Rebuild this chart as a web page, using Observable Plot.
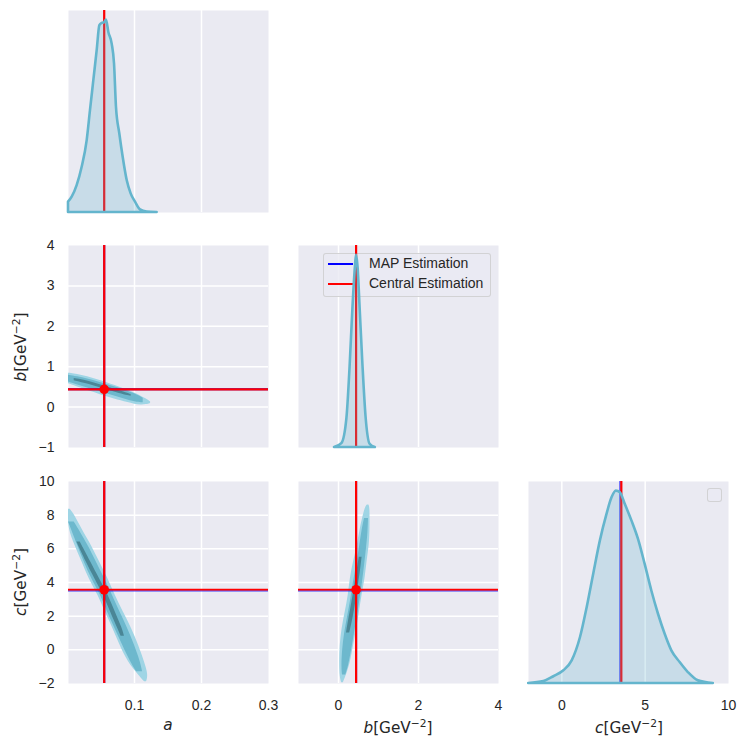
<!DOCTYPE html>
<html><head><meta charset="utf-8">
<script src="https://cdn.jsdelivr.net/npm/d3@7"></script>
<script src="https://cdn.jsdelivr.net/npm/@observablehq/plot@0.6"></script>
<style>
body{margin:0;background:#fff;}
#fig{position:relative;width:747px;height:748px;background:#fff;overflow:hidden;font-family:'Liberation Sans',Arial,sans-serif;}
.leg{position:absolute;box-sizing:border-box;border:1px solid rgba(204,204,204,0.8);border-radius:3px;background:rgba(234,234,242,0.8);}
.legtxt{position:absolute;font-size:14px;color:#262626;white-space:nowrap;line-height:14px;}
.legline{position:absolute;height:2px;}
</style></head><body><div id="fig"></div>
<script>
// ---------- data ----------
const aCentral = 0.0548, bCentral = 0.44, cCentral = 3.57;
const aMAP = 0.0548, bMAP = 0.44, cMAP = 3.49;

const aDomain = [0.0015, 0.3], bDomain = [-1, 4], cDomain = [-2, 10];
const aTicks = [0.1, 0.2, 0.3], bTicksX = [0, 2, 4], cTicksX = [0, 5, 10];
const bTicksY = [-1, 0, 1, 2, 3, 4], cTicksY = [-2, 0, 2, 4, 6, 8, 10];
const aGrid = [0.1, 0.2], bGridX = [0, 2], cGridX = [0, 5];
const bGridY = [0, 1, 2, 3], cGridY = [0, 2, 4, 6, 8];

// marginal KDEs (normalised density, peak = 1)
const kdeA_x = [0.0015,0.007,0.0144,0.0219,0.0294,0.0343,0.0393,0.0443,0.0483,0.0518,0.0552,0.0582,0.0617,0.0667,0.0702,0.0731,0.0781,0.0831,0.0891,0.095,0.1015,0.109,0.1189,0.1338];
const kdeA_y = [0.054,0.080,0.14,0.235,0.374,0.529,0.685,0.841,0.971,0.983,0.986,1.0,0.936,0.875,0.772,0.547,0.408,0.287,0.166,0.097,0.054,0.014,0.003,0];
const kdeB_x = [-0.1,0.084,0.21,0.29,0.36,0.42,0.45,0.49,0.54,0.61,0.69,0.79,0.92];
const kdeB_y = [0,0.02,0.15,0.42,0.72,0.93,1.0,0.934,0.727,0.433,0.156,0.017,0];
const kdeC_x = [-1.99,-1.08,-0.48,0.12,0.62,1.12,1.52,1.91,2.31,2.71,3.01,3.27,3.51,3.81,4.21,4.6,5.0,5.4,5.8,6.2,6.6,7.1,7.59,8.19,9.09];
const kdeC_y = [0,0.01,0.035,0.066,0.118,0.239,0.394,0.567,0.74,0.879,0.965,1.0,0.991,0.93,0.844,0.749,0.619,0.481,0.36,0.256,0.17,0.109,0.057,0.014,0];

// 2D histogram a-b : bands along a (outer / mid / core)
const abOuter_a  = [0.0015,0.010,0.020,0.030,0.040,0.050,0.060,0.070,0.080,0.090,0.100,0.110,0.118,0.124];
const abOuter_lo = [0.58,0.53,0.47,0.41,0.36,0.30,0.25,0.20,0.16,0.11,0.07,0.05,0.06,0.09];
const abOuter_hi = [0.84,0.82,0.79,0.75,0.70,0.65,0.60,0.54,0.48,0.42,0.35,0.27,0.20,0.13];
const abMid_a  = [0.0015,0.015,0.030,0.045,0.060,0.075,0.090,0.105,0.113];
const abMid_lo = [0.62,0.55,0.47,0.40,0.32,0.25,0.17,0.11,0.11];
const abMid_hi = [0.79,0.75,0.70,0.63,0.55,0.48,0.39,0.30,0.22];
const abCore_a  = [0.010,0.025,0.040,0.055,0.070,0.085,0.095];
const abCore_lo = [0.65,0.59,0.52,0.45,0.37,0.30,0.27];
const abCore_hi = [0.71,0.67,0.60,0.52,0.44,0.37,0.31];

// 2D histogram a-c : bands along c
const acOuter_c  = [8.35,8.0,7.2,6.2,5.2,4.2,3.25,2.26,1.27,0.28,-0.71,-1.5,-1.9];
const acOuter_lo = [0.0015,0.0015,0.0015,0.011,0.022,0.032,0.046,0.056,0.068,0.078,0.090,0.106,0.115];
const acOuter_hi = [0.004,0.011,0.021,0.036,0.048,0.061,0.071,0.083,0.096,0.106,0.115,0.121,0.118];
const acMid_c  = [7.6,6.2,5.2,4.2,3.25,2.26,1.27,0.28,-0.71,-1.3];
const acMid_lo = [0.0015,0.015,0.025,0.036,0.050,0.059,0.071,0.082,0.094,0.103];
const acMid_hi = [0.010,0.031,0.043,0.056,0.067,0.078,0.090,0.100,0.109,0.112];
const acCore_c  = [6.4,5.2,4.2,3.25,2.26,1.27,0.8];
const acCore_lo = [0.014,0.028,0.041,0.054,0.064,0.075,0.080];
const acCore_hi = [0.019,0.035,0.048,0.061,0.071,0.082,0.085];

// 2D histogram b-c : bands along c
const bcOuter_c  = [8.6,8.49,7.21,6.22,5.23,4.24,3.25,2.26,1.27,0.28,-0.71,-1.7,-1.95];
const bcOuter_lo = [0.72,0.67,0.54,0.475,0.375,0.29,0.25,0.17,0.085,0.04,0.025,0.04,0.08];
const bcOuter_hi = [0.76,0.79,0.79,0.775,0.71,0.67,0.585,0.525,0.46,0.375,0.31,0.17,0.12];
const bcMid_c  = [7.8,7.0,6.0,5.0,4.0,3.0,2.0,1.0,0.0,-1.0,-1.5];
const bcMid_lo = [0.65,0.58,0.52,0.45,0.37,0.31,0.23,0.15,0.10,0.08,0.10];
const bcMid_hi = [0.75,0.74,0.70,0.65,0.60,0.54,0.47,0.40,0.33,0.25,0.18];
const bcCore_c  = [5.5,4.5,3.6,2.6,1.6,1.0];
const bcCore_lo = [0.52,0.45,0.39,0.32,0.24,0.20];
const bcCore_hi = [0.59,0.54,0.48,0.42,0.34,0.28];

// ---------- helpers ----------
const KDE = "#64B5CD", BG = "#EAEAF2";
const C_OUT = "#9fd5e5", C_MID = "#6db8cd", C_CORE = "#4a8696";
const fmt = d => (d < 0 ? "\u2212" : "") + Math.abs(d);
const zip3 = (p, q, r) => p.map((v, i) => ({k: v, lo: q[i], hi: r[i]}));
const zip2 = (p, q) => p.map((v, i) => ({x: v, y: q[i]}));

const fig = document.getElementById("fig");
const colX = [68, 298, 528], rowY = [10, 245, 481], PW = 200, PH = 202;

function panel(col, row, o) {
  const mL = o.showY ? 68 : 6, mB = o.showX ? 50 : 6, mT = 6, mR = 6;
  const chart = Plot.plot({
    width: PW + mL + mR, height: PH + mT + mB,
    marginLeft: mL, marginRight: mR, marginTop: mT, marginBottom: mB,
    style: {background: "transparent", fontFamily: "'Liberation Sans', Arial, sans-serif", fontSize: "14px", color: "#262626", overflow: "visible"},
    x: {domain: o.xDomain, axis: o.showX ? "bottom" : null, ticks: o.xTicks, tickSize: 0, tickPadding: 17, tickFormat: fmt, label: null},
    y: {domain: o.yDomain, axis: o.showY ? "left" : null, ticks: o.yTicks, tickSize: 0, tickPadding: 14, tickFormat: fmt, label: null},
    marks: o.marks
  });
  chart.style.position = "absolute";
  chart.style.left = (colX[col] - mL) + "px";
  chart.style.top = (rowY[row] - mT) + "px";
  fig.appendChild(chart);
}
const bgMarks = (xg, yg) => [
  Plot.frame({fill: BG, stroke: "none"}),
  Plot.ruleX(xg, {stroke: "white", strokeWidth: 1.5}),
  ...(yg ? [Plot.ruleY(yg, {stroke: "white", strokeWidth: 1.5})] : [])
];
const kdeMarks = (xs, ys, mapV, cenV) => [
  Plot.ruleX([mapV], {stroke: "blue", strokeWidth: 1}),
  Plot.ruleX([cenV], {stroke: "red", strokeWidth: 2.2}),
  Plot.areaY(zip2(xs, ys), {x: "x", y: "y", fill: KDE, fillOpacity: 0.25, stroke: KDE, strokeWidth: 2.6, curve: "monotone-x"})
];
const bandY = (a, lo, hi, fill) => Plot.areaY(zip3(a, lo, hi), {x: "k", y1: "lo", y2: "hi", fill, curve: "basis"});
const bandX = (c, lo, hi, fill) => Plot.areaX(zip3(c, lo, hi), {y: "k", x1: "lo", x2: "hi", fill, curve: "basis"});

// ---------- panels ----------
// (0,0) KDE a
panel(0, 0, {xDomain: aDomain, yDomain: [0, 1.05], xTicks: aTicks, yTicks: [],
  marks: [...bgMarks(aGrid), ...kdeMarks(kdeA_x, kdeA_y, aMAP, aCentral)]});

// (1,0) a vs b
panel(0, 1, {xDomain: aDomain, yDomain: bDomain, xTicks: aTicks, yTicks: bTicksY, showY: true,
  marks: [...bgMarks(aGrid, bGridY),
    bandY(abOuter_a, abOuter_lo, abOuter_hi, C_OUT),
    bandY(abMid_a, abMid_lo, abMid_hi, C_MID),
    bandY(abCore_a, abCore_lo, abCore_hi, C_CORE),
    Plot.ruleX([aMAP], {stroke: "blue", strokeWidth: 2}),
    Plot.ruleY([bMAP], {stroke: "blue", strokeWidth: 2}),
    Plot.ruleX([aCentral], {stroke: "red", strokeWidth: 2.2}),
    Plot.ruleY([bCentral], {stroke: "red", strokeWidth: 2.2}),
    Plot.dot([{x: aCentral, y: bCentral}], {x: "x", y: "y", r: 4.8, fill: "red", stroke: "none"})
  ]});

// (1,1) KDE b : background layer, legend, foreground layer
panel(1, 1, {xDomain: bDomain, yDomain: [0, 1.05], xTicks: bTicksX, yTicks: [], marks: bgMarks(bGridX)});
{
  const leg = document.createElement("div");
  leg.className = "leg";
  Object.assign(leg.style, {left: "323px", top: "253px", width: "168px", height: "44px"});
  fig.appendChild(leg);
  const items = [["MAP Estimation", "blue", 263.5], ["Central Estimation", "red", 283.5]];
  for (const [label, color, y] of items) {
    const ln = document.createElement("div");
    ln.className = "legline";
    Object.assign(ln.style, {left: "328px", top: (y - 1) + "px", width: "25px", background: color});
    fig.appendChild(ln);
    const tx = document.createElement("div");
    tx.className = "legtxt";
    tx.textContent = label;
    Object.assign(tx.style, {left: "369px", top: (y - 7.5) + "px"});
    fig.appendChild(tx);
  }
}
panel(1, 1, {xDomain: bDomain, yDomain: [0, 1.05], xTicks: bTicksX, yTicks: [],
  marks: kdeMarks(kdeB_x, kdeB_y, bMAP, bCentral)});

// (2,0) a vs c
panel(0, 2, {xDomain: aDomain, yDomain: cDomain, xTicks: aTicks, yTicks: cTicksY, showX: true, showY: true,
  marks: [...bgMarks(aGrid, cGridY),
    bandX(acOuter_c, acOuter_lo, acOuter_hi, C_OUT),
    bandX(acMid_c, acMid_lo, acMid_hi, C_MID),
    bandX(acCore_c, acCore_lo, acCore_hi, C_CORE),
    Plot.ruleX([aMAP], {stroke: "blue", strokeWidth: 2}),
    Plot.ruleX([aCentral], {stroke: "red", strokeWidth: 2.2}),
    Plot.ruleY([cCentral], {stroke: "red", strokeWidth: 2.2}),
    Plot.ruleY([cMAP], {stroke: "blue", strokeWidth: 1.3, strokeOpacity: 0.5}),
    Plot.dot([{x: aCentral, y: cCentral}], {x: "x", y: "y", r: 4.8, fill: "red", stroke: "none"})
  ]});

// (2,1) b vs c
panel(1, 2, {xDomain: bDomain, yDomain: cDomain, xTicks: bTicksX, yTicks: cTicksY, showX: true,
  marks: [...bgMarks(bGridX, cGridY),
    bandX(bcOuter_c, bcOuter_lo, bcOuter_hi, C_OUT),
    bandX(bcMid_c, bcMid_lo, bcMid_hi, C_MID),
    bandX(bcCore_c, bcCore_lo, bcCore_hi, C_CORE),
    Plot.ruleX([bMAP], {stroke: "blue", strokeWidth: 2}),
    Plot.ruleX([bCentral], {stroke: "red", strokeWidth: 2.2}),
    Plot.ruleY([cCentral], {stroke: "red", strokeWidth: 2.2}),
    Plot.ruleY([cMAP], {stroke: "blue", strokeWidth: 1.3, strokeOpacity: 0.5}),
    Plot.dot([{x: bCentral, y: cCentral}], {x: "x", y: "y", r: 4.8, fill: "red", stroke: "none"})
  ]});

// (2,2) KDE c
panel(2, 2, {xDomain: cDomain, yDomain: [0, 1.05], xTicks: cTicksX, yTicks: [], showX: true,
  marks: [...bgMarks(cGridX), ...kdeMarks(kdeC_x, kdeC_y, cMAP, cCentral)]});
{
  const leg = document.createElement("div");
  leg.className = "leg";
  Object.assign(leg.style, {left: "707px", top: "488px", width: "15px", height: "14px"});
  fig.appendChild(leg);
}

// ---------- axis labels ----------
const svg = d3.create("svg").attr("width", 747).attr("height", 748)
  .style("position", "absolute").style("left", "0px").style("top", "0px")
  .style("font-family", "'DejaVu Sans', sans-serif").style("font-size", "15.3px").attr("fill", "#262626");
function unitLabel(g, sym) {
  g.append("tspan").attr("font-style", "italic").text(sym);
  g.append("tspan").text("[GeV");
  g.append("tspan").attr("font-size", "10.7px").attr("dy", -6).text("\u22122");
  g.append("tspan").attr("dy", 6).text("]");
}
svg.append("text").attr("x", 168).attr("y", 729.5).attr("text-anchor", "middle").attr("font-style", "italic").text("a");
unitLabel(svg.append("text").attr("x", 398).attr("y", 733).attr("text-anchor", "middle"), "b");
unitLabel(svg.append("text").attr("x", 629).attr("y", 733).attr("text-anchor", "middle"), "c");
unitLabel(svg.append("text").attr("transform", "translate(26,347) rotate(-90)").attr("text-anchor", "middle"), "b");
unitLabel(svg.append("text").attr("transform", "translate(26,582) rotate(-90)").attr("text-anchor", "middle"), "c");
fig.appendChild(svg.node());
</script></body></html>
